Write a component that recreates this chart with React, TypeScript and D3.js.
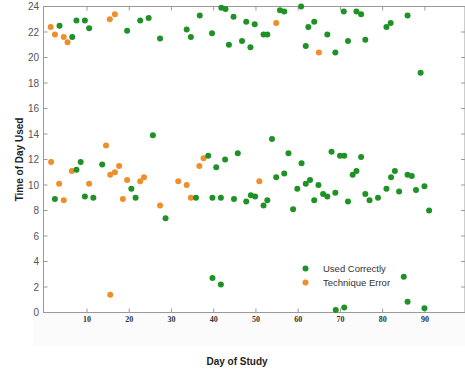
import React, { useRef, useEffect } from "react";
import * as d3 from "d3";

// [day, time of day]
const usedCorrectly: [number, number][] = [
  [3.5, 22.5], [6.5, 21.6], [7.5, 22.9], [9.5, 22.9], [10.5, 22.3], [19.5, 22.1],
  [22.6, 22.9], [24.6, 23.1], [27.3, 21.5], [33.6, 22.2], [34.6, 21.6], [36.7, 23.3],
  [39.6, 21.9], [41.8, 23.9], [42.8, 23.8], [43.6, 21.0], [44.7, 23.2], [46.7, 21.3],
  [47.7, 22.8], [48.7, 20.8], [49.7, 22.6], [51.8, 21.8], [52.7, 21.8], [55.7, 23.7],
  [56.7, 23.6], [60.7, 24.0], [61.8, 20.9], [62.4, 22.4], [63.8, 22.8], [66.9, 21.8],
  [68.8, 20.4], [70.8, 23.6], [71.8, 21.3], [73.8, 23.6], [74.9, 23.4], [75.9, 21.4],
  [80.9, 22.4], [81.9, 22.7], [85.9, 23.3], [89.0, 18.8],
  [25.6, 13.9], [53.8, 13.6], [57.7, 12.5], [38.7, 12.3], [42.7, 12.0], [45.7, 12.5],
  [67.9, 12.6], [69.9, 12.3], [70.9, 12.3], [74.9, 12.2],
  [2.4, 8.9], [7.5, 11.2], [8.5, 11.8], [9.5, 9.1], [11.5, 9.0], [13.6, 11.6],
  [20.5, 9.7], [21.5, 9.0], [28.6, 7.4], [35.8, 9.0], [40.6, 11.4], [39.7, 9.0],
  [41.7, 9.0], [44.8, 8.9], [47.7, 8.7], [48.8, 9.2], [49.8, 9.1], [51.8, 8.4],
  [52.7, 8.8], [54.8, 10.6], [56.7, 10.9], [58.8, 8.1], [59.8, 9.7], [60.8, 11.7],
  [61.8, 10.1], [62.8, 10.4], [63.8, 8.8], [64.8, 10.0], [65.9, 9.3], [66.9, 9.1],
  [68.8, 9.4], [71.8, 8.7], [72.9, 10.8], [73.8, 11.1], [75.9, 9.3], [76.9, 8.8],
  [78.9, 9.0], [80.9, 9.7], [82.0, 10.6], [82.9, 11.1], [83.9, 9.5], [85.9, 10.8],
  [86.9, 10.7], [87.9, 9.6], [89.9, 9.9], [91.0, 8.0],
  [39.7, 2.7], [41.7, 2.2], [85.0, 2.8], [85.9, 0.85], [89.9, 0.33], [68.9, 0.2], [70.9, 0.4],
];

const techniqueError: [number, number][] = [
  [1.4, 22.4], [2.4, 21.8], [4.5, 21.6], [5.4, 21.2], [15.4, 23.0], [16.6, 23.4],
  [54.8, 22.7], [64.9, 20.4], [14.5, 13.1], [1.5, 11.8], [3.4, 10.1], [4.5, 8.8],
  [6.4, 11.1], [10.5, 10.1], [15.5, 10.8], [16.6, 11.0], [17.6, 11.5], [18.5, 8.9],
  [19.5, 10.4], [22.6, 10.3], [23.5, 10.6], [27.3, 8.4], [31.6, 10.3], [33.6, 10.0],
  [34.6, 9.0], [36.6, 11.5], [37.6, 12.1], [50.8, 10.3], [15.5, 1.4],
];

const xTicks = [10, 20, 30, 40, 50, 60, 70, 80, 90];
const yTicks = [0, 2, 4, 6, 8, 10, 12, 14, 16, 18, 20, 22, 24];

const GREEN = "#1f9226";
const ORANGE = "#ee8f2c";
const AXIS = "#9a9a9a";

const width = 465;
const height = 370;

export default function App() {
  const svgRef = useRef<SVGSVGElement>(null);

  useEffect(() => {
    if (!svgRef.current) return;
    const svg = d3.select(svgRef.current);
    svg.selectAll("*").remove();

    const x = d3.scaleLinear().domain([-0.3, 99.5]).range([43.5, 465]);
    const y = d3.scaleLinear().domain([0, 24]).range([312.5, 6.5]);

    // faint band under the x axis
    svg.append("rect")
      .attr("x", 33).attr("y", 313).attr("width", 432).attr("height", 32)
      .attr("fill", "#fbfbfb");

    // frame
    svg.append("rect")
      .attr("x", x(-0.3)).attr("y", y(24))
      .attr("width", x(99.5) - x(-0.3)).attr("height", y(0) - y(24))
      .attr("fill", "none").attr("stroke", AXIS).attr("stroke-width", 1);

    // x ticks (bottom up, top down)
    const xt = svg.append("g").attr("stroke", AXIS);
    xTicks.forEach((t) => {
      xt.append("line").attr("x1", x(t)).attr("x2", x(t)).attr("y1", y(0)).attr("y2", y(0) - 4);
      xt.append("line").attr("x1", x(t)).attr("x2", x(t)).attr("y1", y(24)).attr("y2", y(24) + 4);
    });
    // y ticks (left in, right in)
    yTicks.forEach((t) => {
      xt.append("line").attr("x1", x(-0.3)).attr("x2", x(-0.3) + 4).attr("y1", y(t)).attr("y2", y(t));
      xt.append("line").attr("x1", x(99.5)).attr("x2", x(99.5) - 4).attr("y1", y(t)).attr("y2", y(t));
    });

    svg.append("g")
      .selectAll("text")
      .data(xTicks)
      .join("text")
      .attr("x", (d) => x(d))
      .attr("y", 322)
      .attr("text-anchor", "middle")
      .attr("font-family", "Liberation Serif, serif")
      .attr("font-weight", "bold")
      .attr("font-size", 8)
      .attr("fill", "#333")
      .text((d) => d);

    svg.append("g")
      .selectAll("text")
      .data(yTicks)
      .join("text")
      .attr("x", 39)
      .attr("y", (d) => y(d) + 3.5)
      .attr("text-anchor", "end")
      .attr("font-family", "Liberation Sans, Arial, sans-serif")
      .attr("font-size", 10)
      .attr("fill", "#555")
      .text((d) => d);

    // points
    svg.append("g")
      .selectAll("circle")
      .data(techniqueError)
      .join("circle")
      .attr("cx", (d) => x(d[0]))
      .attr("cy", (d) => y(d[1]))
      .attr("r", 3)
      .attr("fill", ORANGE);

    svg.append("g")
      .selectAll("circle")
      .data(usedCorrectly)
      .join("circle")
      .attr("cx", (d) => x(d[0]))
      .attr("cy", (d) => y(d[1]))
      .attr("r", 3)
      .attr("fill", GREEN);

    // legend
    const legend = svg.append("g").attr("font-family", "Liberation Sans, Arial, sans-serif").attr("font-size", 9.5).attr("fill", "#333");
    [["Used Correctly", GREEN], ["Technique Error", ORANGE]].forEach(([label, color], i) => {
      legend.append("circle").attr("cx", 305.5).attr("cy", 268.5 + i * 14).attr("r", 3).attr("fill", color);
      legend.append("text").attr("x", 323).attr("y", 272 + i * 14).text(label);
    });

    // axis titles
    svg.append("text")
      .attr("transform", `translate(23,${(y(0) + y(24)) / 2}) rotate(-90)`)
      .attr("text-anchor", "middle")
      .attr("font-family", "Liberation Sans, Arial, sans-serif")
      .attr("font-weight", "bold")
      .attr("font-size", 10)
      .attr("fill", "#222")
      .text("Time of Day Used");

    svg.append("text")
      .attr("x", 237)
      .attr("y", 365)
      .attr("text-anchor", "middle")
      .attr("font-family", "Liberation Sans, Arial, sans-serif")
      .attr("font-weight", "bold")
      .attr("font-size", 10)
      .attr("fill", "#222")
      .text("Day of Study");
  }, []);

  return (
    <div style={{ position: "absolute", left: 0, top: 0 }}>
      <svg ref={svgRef} width={width} height={height} style={{ display: "block", background: "#fff" }} />
    </div>
  );
}
